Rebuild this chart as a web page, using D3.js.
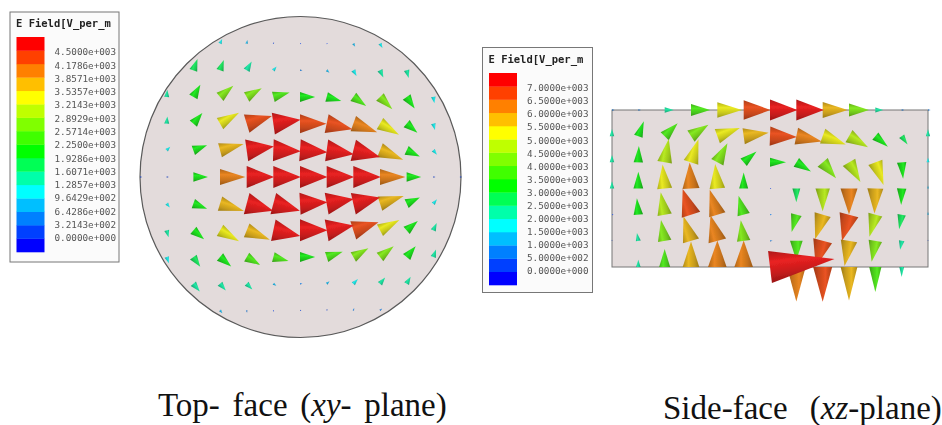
<!DOCTYPE html>
<html>
<head>
<meta charset="utf-8">
<script src="https://cdnjs.cloudflare.com/ajax/libs/d3/7.8.5/d3.min.js"></script>
<style>
  html, body { margin: 0; padding: 0; background: #fff; }
  svg { display: block; }
  .legend-title { font-family: "DejaVu Sans Mono", monospace; font-weight: bold; font-size: 10.5px; fill: #222; }
  .legend-label { font-family: "DejaVu Sans Mono", monospace; font-size: 9.3px; fill: #555; }
  .caption { font-family: "Liberation Serif", serif; font-size: 33px; fill: #111; }
</style>
</head>
<body>
<div id="chart"></div>
<script>
var legendTitle = "E Field[V_per_m";

// legend, low to high
var bandColors = ["#0000ff", "#0040ff", "#0080ff", "#00bfff", "#00ffff", "#00ffaa", "#00ff55", "#00ff00",
                  "#40ff00", "#80ff00", "#bfff00", "#ffff00", "#ffbf00", "#ff8000", "#ff4000", "#ff0000"];

var topLabels = ["4.5000e+003", "4.1786e+003", "3.8571e+003", "3.5357e+003", "3.2143e+003",
                 "2.8929e+003", "2.5714e+003", "2.2500e+003", "1.9286e+003", "1.6071e+003",
                 "1.2857e+003", "9.6429e+002", "6.4286e+002", "3.2143e+002", "0.0000e+000"];
var sideLabels = ["7.0000e+003", "6.5000e+003", "6.0000e+003", "5.5000e+003", "5.0000e+003",
                  "4.5000e+003", "4.0000e+003", "3.5000e+003", "3.0000e+003", "2.5000e+003",
                  "2.0000e+003", "1.5000e+003", "1.0000e+003", "5.0000e+002", "0.0000e+000"];

// xy plane, rows top to bottom, each row centred on the middle column
var topValues = [
  [1000, 700, 150, 60, 60, 700, 1000],
  [1800, 1700, 1600, 1000, 400, 700, 1200, 1400, 1400],
  [1300, 2000, 2600, 2600, 2500, 2200, 2200, 2300, 2600, 2000, 1200],
  [1300, 2000, 3300, 4200, 4500, 4200, 4200, 3900, 3300, 2000, 1200],
  [1000, 2100, 3700, 4500, 4500, 4500, 4500, 4500, 3800, 2100, 1100],
  [300, 300, 2100, 3900, 4500, 4500, 4500, 4500, 4500, 3900, 2100, 300, 300],
  [1000, 2100, 3800, 4500, 4500, 4500, 4500, 4500, 3800, 2100, 1100],
  [1300, 2000, 3300, 3800, 4500, 4500, 4500, 4200, 3300, 2100, 1400],
  [1200, 1800, 2100, 2300, 2300, 2200, 2500, 2600, 2600, 2000, 1400],
  [1600, 1500, 1400, 700, 400, 700, 1200, 1400, 1400],
  [700, 400, 120, 100, 150, 400, 500]
];
var topAngles = [
  [65, 80, 60, 0, 0, -60, -60],
  [70, 70, 60, 50, 0, -40, -60, -65, -75],
  [85, 60, 40, 30, 15, 0, -15, -35, -45, -55, -80],
  [85, 50, 30, 17, 8, 0, -12, -20, -30, -40, -75],
  [45, 20, 15, 8, -2, -4, -8, -14, -22, -25, -50],
  [0, 0, 0, 0, 0, 0, 0, 0, 0, 0, 0, 0, 0],
  [-50, -20, -17, -15, -15, 3, 10, 13, 18, 25, 50],
  [-75, -40, -30, -22, -12, 0, 10, 18, 28, 40, 65],
  [-70, -55, -40, -30, -15, 0, 18, 30, 38, 50, 70],
  [-50, -50, -45, -35, 0, 40, 45, 50, 60],
  [-50, -80, -60, 0, 60, 70, 40]
];

// xz plane, 13 columns each, the last row holds the off-scale feed arrow
var sideValues = [
  [800, 800, 2400, 3800, 5300, 6600, 7000, 7000, 5500, 4000, 2300, 800, 800],
  [2100, 3000, 3600, 4200, 5000, 5600, 6600, 6000, 5300, 4500, 3100, 2500, 2000],
  [2100, 3100, 4900, 5100, 4400, 3200, 3000, 3300, 4200, 4700, 5000, 3100, 1500],
  [2100, 3200, 5000, 6000, 5300, 3000, 200, 2800, 4700, 6000, 5500, 3100, 1000],
  [300, 3100, 4700, 6600, 6000, 3900, 500, 3500, 5900, 6600, 4700, 2900, 1000],
  [100, 2300, 4300, 5900, 6300, 4200, 800, 3900, 6600, 5800, 4300, 2400, 100],
  [null, 2100, 3500, 5800, 6400, 6400, 17000, 6400, 6500, 5900, 3800, 2200, null]
];
var sideAngles = [
  [0, 0, 0, 0, 0, 0, 0, 0, 0, 0, 0, 0, 0],
  [90, 70, 45, 33, 20, 8, -2, -12, -20, -30, -40, -55, 90],
  [90, 88, 80, 72, 62, 40, 0, -32, -50, -60, -70, -85, 90],
  [90, 90, 95, 93, 95, 90, 0, -90, -90, -90, -92, -92, 90],
  [0, 95, 100, 108, 107, 105, 0, -105, -107, -105, -105, -100, 90],
  [90, 100, 100, 107, 105, 98, 0, -90, -105, -100, -100, -100, 90],
  [90, 90, 90, 90, 90, 90, 7, -90, -90, -90, -90, -90, 90]
];

var width = 942, height = 425;

var svg = d3.select("#chart").append("svg")
  .attr("width", width)
  .attr("height", height);

var defs = svg.append("defs");

defs.append("filter").attr("id", "soft")
  .append("feGaussianBlur").attr("stdDeviation", 0.45);

// one cone shading per legend colour
bandColors.forEach(function(c, i) {
  var base = d3.interpolateRgb(c, "#7a7a7a")(0.25);
  var g = defs.append("linearGradient")
    .attr("id", "cone" + i)
    .attr("x1", 0).attr("y1", 0).attr("x2", 0).attr("y2", 1);
  g.append("stop").attr("offset", "0%").attr("stop-color", d3.rgb(base).darker(0.7));
  g.append("stop").attr("offset", "35%").attr("stop-color", d3.rgb(base).brighter(0.15));
  g.append("stop").attr("offset", "70%").attr("stop-color", d3.rgb(base).darker(0.3));
  g.append("stop").attr("offset", "100%").attr("stop-color", d3.rgb(base).darker(1));
});

function thresholdsFrom(labels) {
  return labels.map(Number).reverse();
}

function flatten(values, angles) {
  var out = [];
  values.forEach(function(row, r) {
    row.forEach(function(v, i) {
      if (v === null) return;
      out.push({ row: r, col: i - (row.length - 1) / 2, value: v, angle: angles[r][i] });
    });
  });
  return out.sort(function(a, b) { return a.value - b.value; });
}

function drawArrows(parent, data, x, y, color, len, wid) {
  parent.selectAll("g.arrow")
    .data(data)
    .enter()
    .append("g")
    .attr("class", "arrow")
    .attr("transform", function(d) {
      return "translate(" + x(d.col) + "," + y(d.row) + ")rotate(" + (-d.angle) + ")";
    })
    .append("polygon")
    .attr("points", function(d) {
      var l = len(d), w = wid(d.value) / 2;
      return [[0, -w], [l, 0], [0, w]].join(" ");
    })
    .attr("fill", function(d) { return "url(#cone" + bandColors.indexOf(color(d.value)) + ")"; });
}

function drawLegend(box, labels, barTop, barBottom, labelTop, labelBottom) {
  var g = svg.append("g").attr("filter", "url(#soft)");
  g.append("rect")
    .attr("x", box.x).attr("y", box.y)
    .attr("width", box.w).attr("height", box.h)
    .attr("fill", "#fbfbfb")
    .attr("stroke", "#777")
    .attr("stroke-width", 1);
  g.append("text")
    .attr("class", "legend-title")
    .attr("x", box.x + 6)
    .attr("y", box.y + 15)
    .text(legendTitle);

  var band = d3.scaleBand()
    .domain(d3.range(bandColors.length).reverse())
    .range([barTop, barBottom]);
  g.selectAll("rect.band")
    .data(bandColors)
    .enter()
    .append("rect")
    .attr("class", "band")
    .attr("x", box.x + 6.5)
    .attr("y", function(d, i) { return band(i); })
    .attr("width", 28)
    .attr("height", band.bandwidth() + 0.3)
    .attr("fill", function(d) { return d; });

  var labelY = d3.scalePoint().domain(labels).range([labelTop, labelBottom]);
  g.selectAll("text.legend-label")
    .data(labels)
    .enter()
    .append("text")
    .attr("class", "legend-label")
    .attr("x", box.x + 44.5)
    .attr("y", function(d) { return labelY(d); })
    .attr("dy", "0.35em")
    .text(function(d) { return d; });
}

// top face
var topColor = d3.scaleThreshold().domain(thresholdsFrom(topLabels)).range(bandColors);
var topLen = d3.scaleLinear()
  .domain([0, 400, 1000, 1400, 2000, 2700, 3300, 3800, 4500])
  .range([1, 2.5, 5, 8, 14, 18, 22, 25, 27.5]);
var topWid = d3.scaleLinear()
  .domain([0, 400, 1000, 1400, 2000, 2700, 3300, 3800, 4500])
  .range([1, 1.5, 3.5, 5.5, 9.5, 11, 13, 15, 22]);
var topX = d3.scaleLinear().domain([-5, 5]).range([166.7, 433.3]);
var topY = d3.scaleLinear().domain([0, 10]).range([43.6, 310.4]);

var topPanel = svg.append("g").attr("filter", "url(#soft)");
topPanel.append("circle")
  .attr("cx", 300.5).attr("cy", 177).attr("r", 160.5)
  .attr("fill", "#e3dbdb")
  .attr("stroke", "#5a5a5a")
  .attr("stroke-width", 1.2);
drawArrows(topPanel, flatten(topValues, topAngles), topX, topY, topColor,
  function(d) { return topLen(d.value); }, topWid);

// side face
var sideColor = d3.scaleThreshold().domain(thresholdsFrom(sideLabels)).range(bandColors);
var sideLen = d3.scaleLinear()
  .domain([0, 1000, 2300, 3000, 4000, 5000, 6000, 7000, 17000])
  .range([1, 3, 8, 16, 20, 24, 26, 27.5, 65]);
var sideWid = d3.scaleLinear()
  .domain([0, 1000, 2300, 3000, 4000, 5000, 6000, 7000, 17000])
  .range([1, 1.5, 5, 9, 13, 15, 17, 21, 32]);
var sideX = d3.scaleLinear().domain([-6, 6]).range([612, 928]);
var sideY = d3.scaleLinear().domain([0, 6]).range([110, 267]);

var sidePanel = svg.append("g").attr("filter", "url(#soft)");
sidePanel.append("rect")
  .attr("x", sideX(-6)).attr("y", sideY(0))
  .attr("width", sideX(6) - sideX(-6))
  .attr("height", sideY(6) - sideY(0))
  .attr("fill", "#e3dbdb")
  .attr("stroke", "#777")
  .attr("stroke-width", 1);
drawArrows(sidePanel, flatten(sideValues, sideAngles), sideX, sideY, sideColor,
  function(d) {
    // the arrows leaving through the bottom face look longer in the view
    var stretch = (d.row === 6 && d.angle === -90) ? 1.3 : 1;
    return sideLen(d.value) * stretch;
  }, sideWid);

drawLegend({ x: 10, y: 12, w: 109, h: 250 }, topLabels, 37, 252, 52, 238);
drawLegend({ x: 482.5, y: 47.5, w: 110, h: 245 }, sideLabels, 73, 285, 88, 271);

// captions
var cap1 = svg.append("text").attr("class", "caption").attr("x", 158).attr("y", 416).attr("word-spacing", 4.5);
cap1.append("tspan").text("Top- face (");
cap1.append("tspan").attr("font-style", "italic").text("xy");
cap1.append("tspan").text("- plane)");

var cap2 = svg.append("text").attr("class", "caption").attr("x", 663).attr("y", 419).attr("word-spacing", 14);
cap2.append("tspan").text("Side-face (");
cap2.append("tspan").attr("font-style", "italic").text("xz");
cap2.append("tspan").text("-plane)");
</script>
</body>
</html>
